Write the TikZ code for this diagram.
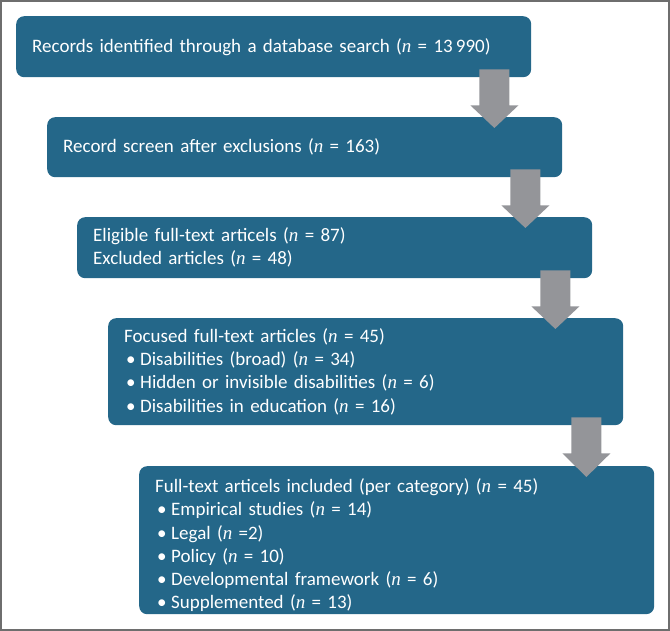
\documentclass[tikz,border=0pt]{standalone}
\usepackage{fontspec}
\setmainfont{Carlito}
\newfontfamily\nfont{Liberation Serif}
\usetikzlibrary{calc}
\definecolor{boxblue}{RGB}{36,103,137}
\definecolor{arrowgrey}{RGB}{148,149,153}
\definecolor{framegrey}{RGB}{110,110,110}
\newcommand{\nn}{{\nfont\itshape n}}
\newcommand{\itm}{\par\makebox[16pt][l]{\hspace{2pt}\textbullet}}
\tikzset{
  flowbox/.style={fill=boxblue, rounded corners=8pt, text=white,
    minimum width=515pt, text width=483pt, inner xsep=16pt, inner ysep=0pt,
    align=left, anchor=north west,
    font=\fontsize{19}{23.3}\selectfont},
  flowarrow/.style={fill=arrowgrey, draw=none}
}
% block arrow from the lower right of box #1 into box #2
\newcommand{\blockarrow}[2]{%
  \path[flowarrow] let \p1=(#1.south east), \p2=(#2.north) in
    (\x1-52pt,\y1+8pt) -- (\x1-22pt,\y1+8pt) -- (\x1-22pt,\y1-28pt)
    -- (\x1-13pt,\y1-28pt) -- (\x1-37pt,\y2-11pt) -- (\x1-61pt,\y1-28pt)
    -- (\x1-52pt,\y1-28pt) -- cycle;}
\begin{document}
\begin{tikzpicture}[x=1pt,y=-1pt]
\useasboundingbox (0,0) rectangle (670,631);
\draw[framegrey, line width=2pt] (1,1) rectangle (669,630);

\node[flowbox, minimum height=61pt] (b1) at (16,16)
  {Records identified through a database search (\nn{} = 13\,990)};
\node[flowbox, minimum height=60pt] (b2) at (47,117)
  {Record screen after exclusions (\nn{} = 163)};
\node[flowbox, minimum height=61pt] (b3) at (77,217)
  {Eligible full-text articels (\nn{} = 87)\par Excluded articles (\nn{} = 48)};
\node[flowbox, minimum height=107pt] (b4) at (108,318)
  {Focused full-text articles (\nn{} = 45)%
   \itm Disabilities (broad) (\nn{} = 34)%
   \itm Hidden or invisible disabilities (\nn{} = 6)%
   \itm Disabilities in education (\nn{} = 16)};
\node[flowbox, minimum height=148pt] (b5) at (139,466)
  {\rule{0pt}{24pt}Full-text articels included (per category) (\nn{} = 45)%
   \itm Empirical studies (\nn{} = 14)%
   \itm Legal (\nn{} =2)%
   \itm Policy (\nn{} = 10)%
   \itm Developmental framework (\nn{} = 6)%
   \itm Supplemented (\nn{} = 13)};

\blockarrow{b1}{b2}
\blockarrow{b2}{b3}
\blockarrow{b3}{b4}
\blockarrow{b4}{b5}
\end{tikzpicture}
\end{document}
